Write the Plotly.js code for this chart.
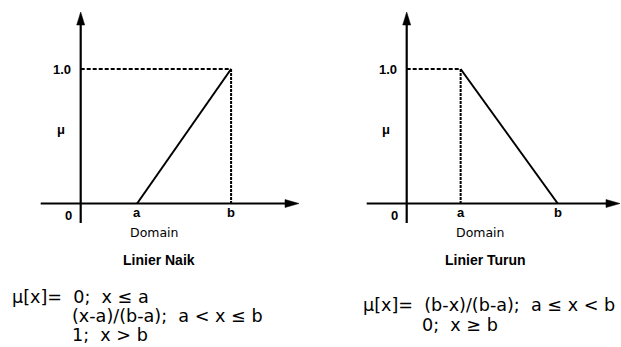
<!DOCTYPE html>
<html><head><meta charset="utf-8">
<script src="https://cdn.plot.ly/plotly-3.0.1.min.js"></script>
<style>html,body{margin:0;padding:0;background:#fff}</style>
</head><body><div id="chart" style="width:621px;height:347px"></div>
<script>
// ---- data: Linier Naik (increasing) ----
const naikA = 3, naikB = 8;
const naikX = [naikA, naikB];
const naikY = [0, 1];
const naikGuideHX = [0, naikB], naikGuideHY = [1, 1];
const naikGuideVX = [naikB, naikB], naikGuideVY = [1, 0];
// ---- data: Linier Turun (decreasing) ----
const turunA = 3, turunB = 8.4;
const turunX = [turunA, turunB];
const turunY = [1, 0];
const turunGuideHX = [0, turunA], turunGuideHY = [1, 1];
const turunGuideVX = [turunA, turunA], turunGuideVY = [1, 0];
// ---- labels ----
const xTickText = ['0', 'a', 'b'];
const yTickText = ['1.0'];
const yAxisLabel = 'μ';
const xAxisLabel = 'Domain';
const panelTitles = ['Linier Naik', 'Linier Turun'];
const naikFormula = ['μ[x]=  0;  x ≤ a', '(x-a)/(b-a);  a < x ≤ b', '1;  x > b'];
const turunFormula = ['μ[x]=  (b-x)/(b-a);  a ≤ x < b', '0;  x ≥ b'];

// ---- layout geometry (pixels) ----
const W = 621, H = 347;
const pxX = v => v / W, pxY = v => 1 - v / H;
const oy = 203.5, yScale = 134.5, yTop = 12, yBot = 223;
const panels = [
  {xa: 'x', ya: 'y', dom: [0, 310.5], ox: 80.7, x0: 40.7, tip: 299, s: 18.8,
   A: naikA, B: naikB, zeroShift: -12.4, oneShift: -18.5, muX: 61, domX: 129, titleX: 159.2,
   formula: naikFormula, fx: [11, 71, 71], fy: [297.3, 315.8, 334.6]},
  {xa: 'x2', ya: 'y2', dom: [310.5, 621], ox: 406.7, x0: 366.7, tip: 620, s: 17.98,
   A: turunA, B: turunB, zeroShift: -12.5, oneShift: -19.2, muX: 385.5, domX: 454.5, titleX: 485,
   formula: turunFormula, fx: [362, 421], fy: [305.3, 324.8]}
];

const black = '#000';
const solid = {color: black, width: 2};
const dashH = {color: black, width: 2, dash: '4px,2px'};
const dashV = {color: black, width: 2, dash: '3px,1px'};
const tr = (x, y, line, xa, ya) => ({type: 'scatter', mode: 'lines', x, y, line, xaxis: xa, yaxis: ya, hoverinfo: 'skip'});

const data = [
  tr(naikGuideHX, naikGuideHY, dashH, 'x', 'y'),
  tr(naikGuideVX, naikGuideVY, dashV, 'x', 'y'),
  tr(naikX, naikY, solid, 'x', 'y'),
  tr(turunGuideHX, turunGuideHY, dashH, 'x2', 'y2'),
  tr(turunGuideVX, turunGuideVY, dashV, 'x2', 'y2'),
  tr(turunX, turunY, solid, 'x2', 'y2')
];

const tickFont = {family: 'Liberation Sans, Arial, sans-serif', size: 13, color: black, weight: 'bold'};
const shapes = [], annotations = [];
panels.forEach((p, k) => {
  // axis lines
  shapes.push({type: 'line', xref: 'paper', yref: 'paper', x0: pxX(p.x0), x1: pxX(p.tip - 10), y0: pxY(oy), y1: pxY(oy), line: {color: black, width: 2.2}});
  shapes.push({type: 'line', xref: 'paper', yref: 'paper', x0: pxX(p.ox), x1: pxX(p.ox), y0: pxY(yBot), y1: pxY(yTop + 10), line: {color: black, width: 2.2}});
  // arrow heads
  shapes.push({type: 'path', xref: 'paper', yref: 'paper', fillcolor: black, line: {color: black, width: 0.5},
    path: `M${pxX(p.tip)},${pxY(oy)} L${pxX(p.tip - 14)},${pxY(oy - 4)} L${pxX(p.tip - 14)},${pxY(oy + 4)} Z`});
  shapes.push({type: 'path', xref: 'paper', yref: 'paper', fillcolor: black, line: {color: black, width: 0.5},
    path: `M${pxX(p.ox)},${pxY(yTop)} L${pxX(p.ox - 4)},${pxY(yTop + 13)} L${pxX(p.ox + 4)},${pxY(yTop + 13)} Z`});
  // tick labels
  const tv = [0, p.A, p.B];
  tv.forEach((v, i) => annotations.push({xref: p.xa, yref: p.ya, x: v, y: 0, text: xTickText[i], showarrow: false,
    xanchor: 'center', yanchor: 'middle', xshift: i === 0 ? p.zeroShift : 0, yshift: i === 0 ? -11.8 : -8.6, font: tickFont}));
  annotations.push({xref: p.xa, yref: p.ya, x: 0, y: 1, text: yTickText[0], showarrow: false,
    xanchor: 'center', yanchor: 'middle', xshift: p.oneShift, font: tickFont});
  annotations.push({xref: 'paper', yref: 'paper', x: pxX(p.muX), y: pxY(129), text: yAxisLabel, showarrow: false,
    xanchor: 'center', yanchor: 'middle', font: tickFont});
  annotations.push({xref: 'paper', yref: 'paper', x: pxX(p.domX - 1), y: pxY(232.5), text: xAxisLabel, showarrow: false,
    xanchor: 'left', yanchor: 'middle', font: {family: 'DejaVu Sans, sans-serif', size: 12.5, color: black}});
  annotations.push({xref: 'paper', yref: 'paper', x: pxX(p.titleX), y: pxY(260.2), text: panelTitles[k], showarrow: false,
    xanchor: 'center', yanchor: 'middle', font: {family: 'Liberation Sans, Arial, sans-serif', size: 14, color: black, weight: 'bold'}});
  p.formula.forEach((t, i) => annotations.push({xref: 'paper', yref: 'paper', x: pxX(p.fx[i]), y: pxY(p.fy[i]), text: t, showarrow: false,
    xanchor: 'left', yanchor: 'middle', borderpad: 0, font: {family: 'DejaVu Sans, sans-serif', size: 17.6, color: black}}));
});

const hidden = {showgrid: false, zeroline: false, showticklabels: false, showline: false, ticks: '', fixedrange: true};
const p0 = panels[0], p1 = panels[1];
const layout = {
  width: W, height: H, margin: {l: 0, r: 0, t: 0, b: 0}, showlegend: false,
  paper_bgcolor: '#fff', plot_bgcolor: 'rgba(0,0,0,0)',
  xaxis: Object.assign({}, hidden, {domain: [p0.dom[0] / W, p0.dom[1] / W], range: [(p0.dom[0] - p0.ox) / p0.s, (p0.dom[1] - p0.ox) / p0.s], anchor: 'y'}),
  yaxis: Object.assign({}, hidden, {domain: [0, 1], range: [(oy - H) / yScale, oy / yScale], anchor: 'x'}),
  xaxis2: Object.assign({}, hidden, {domain: [p1.dom[0] / W, p1.dom[1] / W], range: [(p1.dom[0] - p1.ox) / p1.s, (p1.dom[1] - p1.ox) / p1.s], anchor: 'y2'}),
  yaxis2: Object.assign({}, hidden, {domain: [0, 1], range: [(oy - H) / yScale, oy / yScale], anchor: 'x2'}),
  shapes, annotations
};
Plotly.newPlot('chart', data, layout, {staticPlot: true, displayModeBar: false});
</script>
</body></html>
